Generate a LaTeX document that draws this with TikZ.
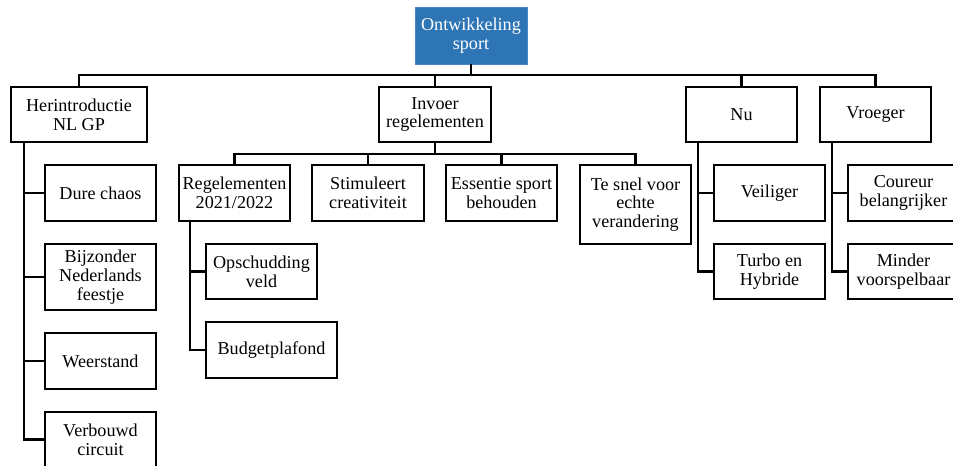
\documentclass[tikz,border=0pt]{standalone}
\usepackage{fontspec}
\setmainfont{Liberation Serif}
\newfontfamily\boxfont{Liberation Serif}
\definecolor{rootfill}{RGB}{46,117,182}
\definecolor{rootline}{RGB}{75,135,200}
\begin{document}
\begin{tikzpicture}[x=0.75pt,y=-0.75pt,
  box/.style={draw=black,line width=1.7pt,fill=white,align=center,inner sep=1pt,outer sep=0pt,
    font=\boxfont\fontsize{13.6}{14}\selectfont},
  rootbox/.style={draw=rootline,line width=0.6pt,fill=rootfill,text=white,
    align=center,inner sep=1pt,outer sep=0pt,font=\boxfont\fontsize{13.6}{14}\selectfont},
  bw/.style={minimum width=#1*0.75pt},
  bh/.style={minimum height=#1*0.75pt},
  link/.style={draw=black,line width=1.7pt}]
\useasboundingbox (0,0) rectangle (953,465);

% root
\node[rootbox,bw=112,bh=57] (root) at (471,35.5) {Ontwikkeling\\sport};

% first level
\node[box,bw=136,bh=55] (her) at (79,114.5) {Herintroductie\\NL GP};
\node[box,bw=112,bh=55] (inv) at (435,114.5) {Invoer\\regelementen};
\node[box,bw=111,bh=55] (nu) at (741.5,114.5) {Nu};
\node[box,bw=111,bh=55] (vro) at (875.5,114.5) {Vroeger};

\coordinate (bus) at (471,75);
\draw[link] (root.south) -- (bus);
\draw[link] (her.north) |- (bus) -| (vro.north);
\draw[link] (inv.north) -- (inv.north |- bus);
\draw[link] (nu.north) -- (nu.north |- bus);

% Herintroductie NL GP
\node[box,bw=111,bh=56] (dure) at (100.5,193) {Dure chaos};
\node[box,bw=111,bh=66] (bijz) at (100.5,277) {Bijzonder\\Nederlands\\feestje};
\node[box,bw=111,bh=56] (weer) at (100.5,361) {Weerstand};
\node[box,bw=111,bh=55] (verb) at (100.5,439.5) {Verbouwd\\circuit};
\coordinate (herv) at (24,142);
\draw[link] (herv) |- (verb.west);
\draw[link] (herv |- dure.west) -- (dure.west);
\draw[link] (herv |- bijz.west) -- (bijz.west);
\draw[link] (herv |- weer.west) -- (weer.west);

% Invoer regelementen
\node[box,bw=111,bh=56] (reg) at (234.5,193) {Regelementen\\2021/2022};
\node[box,bw=112,bh=56] (stim) at (368,193) {Stimuleert\\creativiteit};
\node[box,bw=111,bh=56] (ess) at (501.5,193) {Essentie sport\\behouden};
\node[box,bw=111,bh=79] (snel) at (635.5,204.5) {Te snel voor\\echte\\verandering};
\coordinate (invbus) at (435,154);
\draw[link] (inv.south) -- (invbus);
\draw[link] (reg.north) |- (invbus) -| (snel.north);
\draw[link] (stim.north) -- (stim.north |- invbus);
\draw[link] (ess.north) -- (ess.north |- invbus);

% Regelementen 2021/2022
\node[box,bw=111,bh=55] (opsch) at (261.5,271.5) {Opschudding\\veld};
\node[box,bw=131,bh=56] (budg) at (271.5,350) {Budgetplafond};
\coordinate (regv) at (190,221);
\draw[link] (regv) |- (budg.west);
\draw[link] (regv |- opsch.west) -- (opsch.west);

% Nu
\node[box,bw=111,bh=56] (veil) at (769.5,193) {Veiliger};
\node[box,bw=111,bh=55] (turbo) at (769.5,271.5) {Turbo en\\Hybride};
\coordinate (nuv) at (698,142);
\draw[link] (nuv) |- (turbo.west);
\draw[link] (nuv |- veil.west) -- (veil.west);

% Vroeger
\node[box,bw=111,bh=56] (cour) at (903.5,193) {Coureur\\belangrijker};
\node[box,bw=111,bh=55] (mind) at (903.5,271.5) {Minder\\voorspelbaar};
\coordinate (vrov) at (832,142);
\draw[link] (vrov) |- (mind.west);
\draw[link] (vrov |- cour.west) -- (cour.west);
\end{tikzpicture}
\end{document}
